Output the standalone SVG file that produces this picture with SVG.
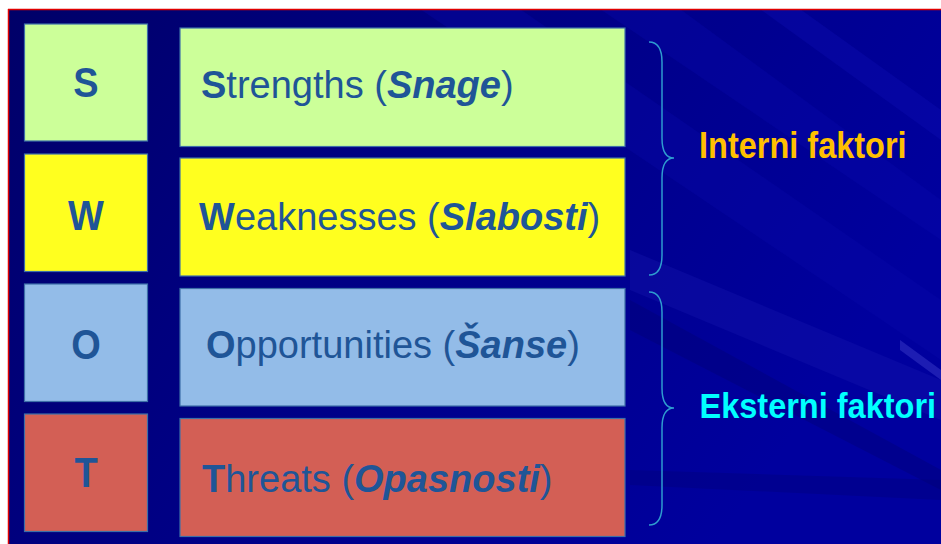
<svg xmlns="http://www.w3.org/2000/svg" width="941" height="544" viewBox="0 0 941 544">
  <defs>
    <linearGradient id="bg" x1="0" y1="0" x2="1" y2="0.4">
      <stop offset="0" stop-color="#000068"/>
      <stop offset="0.35" stop-color="#00007E"/>
      <stop offset="0.75" stop-color="#000092"/>
      <stop offset="1" stop-color="#00009E"/>
    </linearGradient>
    <style>
      .box { stroke: #3D6FA8; stroke-width: 1.2; }
      .g { fill: #CCFF99; }
      .y { fill: #FFFF1F; }
      .b { fill: #93BCE8; }
      .r { fill: #D35F55; }
      .letter { font-family: "Liberation Sans", Arial, sans-serif; font-weight: bold; font-size: 38px; fill: #1F5597; text-anchor: middle; }
      .label { font-family: "Liberation Sans", Arial, sans-serif; font-size: 38px; fill: #1F5597; }
      .bold { font-weight: bold; }
      .bi { font-weight: bold; font-style: italic; }
      .brace { fill: none; stroke: #2E9BCF; stroke-width: 1.5; }
      .side { font-family: "Liberation Sans", Arial, sans-serif; font-weight: bold; font-size: 32.5px; }
    </style>
  </defs>

  <rect x="0" y="0" width="941" height="544" fill="#FFFFFF"/>
  <rect x="8" y="9" width="933" height="535" fill="url(#bg)"/>
  <g id="streaks" opacity="1">
    <polygon points="420,9 520,9 941,300 941,360" fill="#0A0AA8" opacity="0.35"/>
    <polygon points="600,9 680,9 941,200 941,240" fill="#0A0AB0" opacity="0.3"/>
    <polygon points="760,9 800,9 941,110 941,140" fill="#1010B8" opacity="0.3"/>
    <polygon points="630,250 941,380 941,420 630,290" fill="#1818B0" opacity="0.35"/>
    <polygon points="630,300 941,470 941,490 630,330" fill="#000070" opacity="0.35"/>
    <polygon points="630,470 941,480 941,500 630,485" fill="#000070" opacity="0.3"/>
    <polygon points="900,340 941,370 941,380 900,350" fill="#3A3AC8" opacity="0.5"/>
  </g>
  <line x1="8" y1="9.5" x2="941" y2="9.5" stroke="#E00000" stroke-width="1.5"/>
  <line x1="8.5" y1="9" x2="8.5" y2="544" stroke="#E00000" stroke-width="1.5"/>

  <g id="node-S">
    <rect class="box g" x="24.5" y="24" width="123" height="117"/>
    <text class="letter" transform="translate(86,97) scale(1,1.1)">S</text>
  </g>
  <g id="node-W">
    <rect class="box y" x="24.5" y="154" width="123" height="117.5"/>
    <text class="letter" transform="translate(86,229.5) scale(1,1.1)">W</text>
  </g>
  <g id="node-O">
    <rect class="box b" x="24.5" y="284" width="123" height="117.5"/>
    <text class="letter" transform="translate(86,359) scale(1,1.1)">O</text>
  </g>
  <g id="node-T">
    <rect class="box r" x="24.5" y="414" width="123" height="117.5"/>
    <text class="letter" transform="translate(86,487) scale(1,1.1)">T</text>
  </g>

  <g id="node-strengths">
    <rect class="box g" x="180" y="28" width="445" height="118.5"/>
    <text class="label" x="201" y="98"><tspan class="bold">S</tspan>trengths (<tspan class="bi">Snage</tspan>)</text>
  </g>
  <g id="node-weaknesses">
    <rect class="box y" x="180" y="158" width="445" height="118"/>
    <text class="label" x="199" y="229.5"><tspan class="bold">W</tspan>eaknesses (<tspan class="bi">Slabosti</tspan>)</text>
  </g>
  <g id="node-opportunities">
    <rect class="box b" x="180" y="288.5" width="445" height="117.5"/>
    <text class="label" x="206" y="358"><tspan class="bold">O</tspan>pportunities (<tspan class="bi">Šanse</tspan>)</text>
  </g>
  <g id="node-threats">
    <rect class="box r" x="180" y="418.5" width="445" height="118"/>
    <text class="label" x="202" y="491.5"><tspan class="bold">T</tspan>hreats (<tspan class="bi">Opasnosti</tspan>)</text>
  </g>

  <g id="connectors">
    <path class="brace" d="M649,42 Q662,42 662,62 L662,138 Q662,158 674,158 Q662,158 662,178 L662,255 Q662,275 649,275"/>
    <path class="brace" d="M649,292 Q662,292 662,312 L662,388 Q662,408 674,408 Q662,408 662,428 L662,505 Q662,525 649,525"/>
  </g>

  <g id="label-interni">
    <text class="side" fill="#FFC000" transform="translate(699,158.3) scale(1,1.12)">Interni faktori</text>
  </g>
  <g id="label-eksterni">
    <text class="side" fill="#00FFFF" font-size="32" transform="translate(699.5,418.3) scale(1,1.1)">Eksterni faktori</text>
  </g>
</svg>
